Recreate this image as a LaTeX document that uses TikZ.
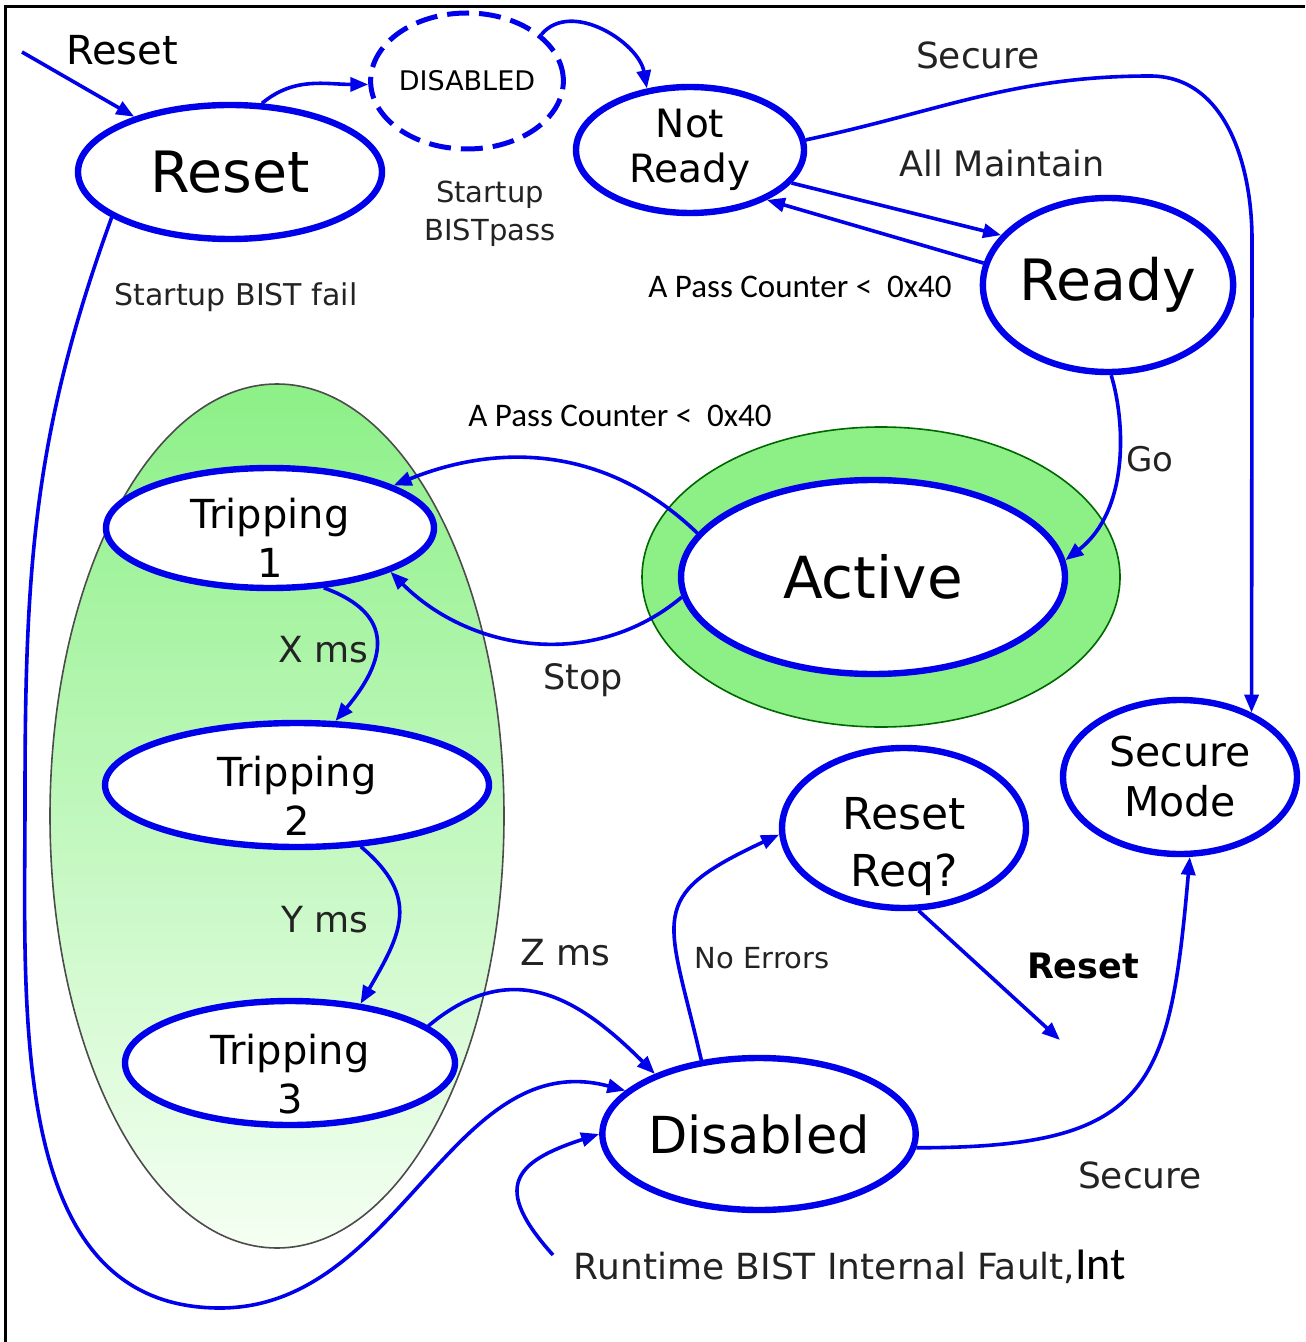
\documentclass[tikz,border=0pt]{standalone}
\usepackage{fontspec}
\setmainfont{DejaVu Sans}
\newfontfamily\calibrifont{Carlito}
\usepackage{tikz}
\usetikzlibrary{shapes.geometric, arrows.meta}
\definecolor{fsmblue}{RGB}{0, 0, 235}
\definecolor{tripgreen}{RGB}{140, 240, 135}
\definecolor{tripfade}{RGB}{245, 255, 243}
\definecolor{labelgray}{RGB}{35, 35, 35}
\newcommand{\setfs}[2]{\fontsize{#1}{#2}\selectfont}
% two-line state text, last baseline put at #1 below the centre
\newcommand{\lowstack}[2]{\raisebox{#1}[0pt][0pt]{\begin{tabular}[b]{@{}c@{}}#2\end{tabular}}}

\tikzset{
  fsmstate/.style={ellipse, draw=fsmblue, line width=3.2pt, fill=white, inner sep=0pt, align=center},
  trans/.style={draw=fsmblue, line width=1.8pt, -{Triangle[length=9pt, width=7pt]}},
  translabel/.style={text=labelgray, inner sep=0pt, align=center},
}

\begin{document}
\begin{tikzpicture}[x=0.5pt, y=-0.5pt]
  \useasboundingbox (0,0) rectangle (1305,1342);
  \draw[line width=1.5pt] (5,1342) -- (5,7) -- (1305,7);

  % Tripping group and Active ring
  \node[ellipse, draw=black!70, line width=0.8pt, top color=tripgreen, bottom color=tripfade, minimum width=227pt, minimum height=432pt] (tripgroup) at (277,816) {};
  \node[ellipse, draw=black!60!green, line width=0.8pt, fill=tripgreen, minimum width=239pt, minimum height=150pt] (activering) at (881,577) {};

  % States
  \node[fsmstate, minimum width=152pt, minimum height=67pt, font=\setfs{28.5}{30}] (reset) at (230,172) {Reset};
  \node[fsmstate, dash pattern=on 11pt off 5pt, line width=2.5pt, minimum width=80pt, minimum height=68pt, font=\setfs{13.5}{15}] (boot) at (467,81) {DISABLED};
  \node[fsmstate, minimum width=114pt, minimum height=63pt, font=\setfs{19.5}{22.5}] (notready) at (690,150) {Not\\Ready};
  \node[fsmstate, minimum width=119pt, minimum height=87pt, font=\setfs{28.5}{30}] (ready) at (1108,285) {Ready};
  \node[fsmstate, minimum width=192pt, minimum height=97pt, font=\setfs{29}{31}] (active) at (873,577) {Active};
  \node[fsmstate, minimum width=164pt, minimum height=60pt, font=\setfs{20}{24.5}] (trip1) at (270,528) {\lowstack{-24.5pt}{Tripping\\1}};
  \node[fsmstate, minimum width=192pt, minimum height=62pt, font=\setfs{20}{24.5}] (trip2) at (297,785) {\lowstack{-25pt}{Tripping\\2}};
  \node[fsmstate, minimum width=165pt, minimum height=62pt, font=\setfs{20}{24.5}] (trip3) at (290,1063) {\lowstack{-25pt}{Tripping\\3}};
  \node[fsmstate, minimum width=153pt, minimum height=76pt, font=\setfs{25.5}{27}] (disabled) at (759,1134) {Disabled};
  \node[fsmstate, minimum width=122pt, minimum height=80pt, font=\setfs{22}{28.5}] (resetreq) at (904,828) {\lowstack{-29pt}{Reset\\Req?}};
  \node[fsmstate, minimum width=117pt, minimum height=77pt, font=\setfs{20.5}{25}] (secure) at (1180,777) {Secure\\Mode};

  % Free ends
  \coordinate (entry) at (22,52);
  \coordinate (faultsrc) at (553,1255);
  \coordinate (resetout) at (1060,1040);

  % Transitions
  \draw[trans] (entry) -- (reset.150);
  \draw[trans] (reset.65) to[out=40, in=180] (boot.182);
  \draw[trans] (boot.32) to[out=50, in=100] (notready.125);
  \draw[trans] (notready.5) to[out=12, in=180] (1150,76) to[out=0, in=90] (1252,240) -- (secure.42);
  \draw[trans] (notready.-18) -- (ready.155);
  \draw[trans] (ready.170) -- (notready.-33);
  \draw[trans] (ready.-88) .. controls (1125,420) and (1130,510) .. (active.5);
  \draw[trans] (active.166) to[out=136, in=22] (trip1.19);
  \draw[trans] (active.186) to[out=220, in=-45] (trip1.-20);
  \draw[trans] (trip1.-48) to[out=-20, in=50, looseness=1.5] (trip2.59);
  \draw[trans] (trip2.-44) to[out=-40, in=60, looseness=1.3] (trip3.40);
  \draw[trans] (trip3.15) to[out=40, in=135, looseness=1.2] (disabled.150);
  \draw[trans] (reset.201) to[out=-110, in=90] (25,800) to[out=-90, in=180] (220,1308) to[out=0, in=165] (disabled.162);
  \draw[trans] (faultsrc) to[out=132, in=198, looseness=1.8] (disabled.180);
  \draw[trans] (disabled.128) to[out=103, in=205, looseness=1.6] (resetreq.183);
  \draw[trans] (resetreq.-80) -- (resetout);
  \draw[trans] (disabled.-5) to[out=0, in=-95, looseness=1.5] (secure.-83);

  % Labels
  \node[translabel, text=black, font=\setfs{20}{22}] (resetlbl) at (122,50) {Reset};
  \node[translabel, font=\setfs{14.5}{19}] (passlbl) at (490,214) {Startup\\BISTpass};
  \node[translabel, font=\setfs{15}{17}] (faillbl) at (236,297) {Startup BIST fail};
  \node[translabel, font=\setfs{18}{20}] (securelbl) at (978,55) {Secure};
  \node[translabel, font=\setfs{17.5}{20}] (maintainlbl) at (1002,163) {All Maintain};
  \node[translabel, text=black, font=\calibrifont\setfs{16.5}{19}] (counterlbl) at (800,287) {A Pass Counter <\ \ 0x40};
  \node[translabel, font=\setfs{17}{20}] (golbl) at (1150,459) {Go};
  \node[translabel, text=black, font=\calibrifont\setfs{16.5}{19}] (counter2lbl) at (620,416) {A Pass Counter <\ \ 0x40};
  \node[translabel, font=\setfs{18}{20}] (xmslbl) at (323,650) {X ms};
  \node[translabel, font=\setfs{17.5}{20}] (stoplbl) at (583,680) {Stop};
  \node[translabel, font=\setfs{18}{20}] (ymslbl) at (325,920) {Y ms};
  \node[translabel, font=\setfs{18}{20}] (zmslbl) at (565,953) {Z ms};
  \node[translabel, font=\setfs{14.5}{17}] (noerrlbl) at (762,958) {No Errors};
  \node[translabel, text=black, font=\bfseries\setfs{17.5}{20}] (resetreqlbl) at (1083,966) {Reset};
  \node[translabel, font=\setfs{18}{20}] (secure2lbl) at (1140,1175) {Secure};
  \node[translabel, font=\setfs{18}{20}] (faultlbl) at (850,1267) {Runtime BIST Internal Fault,{\calibrifont\color{black}\setfs{23}{25}Int}};
\end{tikzpicture}
\end{document}
